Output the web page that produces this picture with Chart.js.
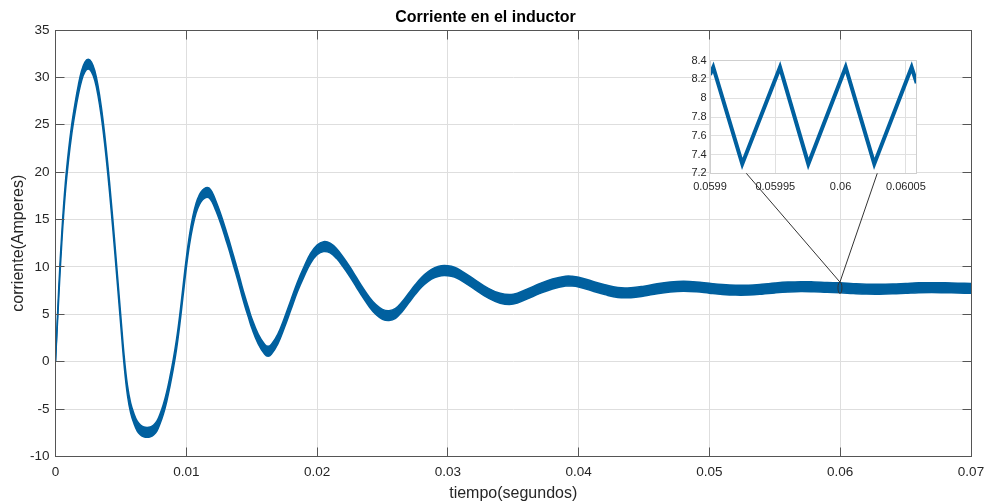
<!DOCTYPE html>
<html><head><meta charset="utf-8">
<script src="https://cdn.jsdelivr.net/npm/chart.js@4.4.1/dist/chart.umd.min.js"></script>
<style>
html,body{margin:0;padding:0;background:#fff;}
#wrap{position:relative;width:986px;height:503px;}
canvas{position:absolute;left:0;top:0;}
#inset{pointer-events:none;}
</style></head><body>
<div id="wrap"><canvas id="main" width="986" height="503"></canvas><canvas id="inset" width="986" height="503"></canvas></div>
<script>
// ---- data (band centre of the inductor current) ----
const timeS = [0,0.00025,0.0005,0.00075,0.001,0.00125,0.0015,0.00175,0.002,0.00225,0.0025,0.00275,0.003,0.00325,0.0035,0.00375,0.004,0.00425,0.0045,0.00475,0.005,0.00525,0.0055,0.00575,0.006,0.00625,0.0065,0.00675,0.007,0.00725,0.0075,0.00775,0.008,0.00825,0.0085,0.00875,0.009,0.00925,0.0095,0.00975,0.01,0.01025,0.0105,0.01075,0.011,0.01125,0.0115,0.01175,0.012,0.01225,0.0125,0.01275,0.013,0.01325,0.0135,0.01375,0.014,0.01425,0.0145,0.01475,0.015,0.0155,0.016,0.01625,0.0165,0.017,0.0175,0.018,0.0185,0.019,0.0195,0.02,0.0205,0.021,0.0215,0.022,0.0225,0.023,0.0235,0.024,0.0245,0.025,0.0255,0.026,0.0265,0.027,0.0275,0.028,0.0285,0.029,0.0295,0.03,0.0305,0.031,0.032,0.033,0.034,0.035,0.036,0.037,0.038,0.039,0.0395,0.04,0.041,0.042,0.043,0.044,0.045,0.046,0.047,0.048,0.049,0.05,0.051,0.052,0.053,0.054,0.055,0.056,0.057,0.058,0.059,0.06,0.061,0.062,0.063,0.064,0.065,0.066,0.067,0.068,0.069,0.07];
const currentA = [0,7.3,13.5,18.3,21.8,24.6,26.8,28.7,30.2,31.1,31.4,31.1,30.2,28.6,26.4,23.6,20.3,16.6,12.6,8.4,4.2,0.1,-3.0,-4.9,-6.0,-6.8,-7.2,-7.4,-7.45,-7.4,-7.2,-6.8,-6.0,-5.0,-3.7,-2.1,-0.3,1.8,4.4,7.4,10.4,12.9,14.8,16.2,17.1,17.6,17.85,17.8,17.3,16.5,15.6,14.6,13.5,12.4,11.2,10.0,8.8,7.5,6.3,5.2,4.1,2.4,1.3,1.1,1.3,2.4,4.1,6.0,7.9,9.5,10.9,11.8,12.15,12.0,11.4,10.5,9.5,8.4,7.3,6.3,5.5,5.0,4.87,5.1,5.8,6.7,7.6,8.4,9.0,9.4,9.6,9.6,9.45,9.1,8.2,7.3,6.7,6.6,7.1,7.7,8.2,8.5,8.5,8.4,8.0,7.6,7.3,7.28,7.45,7.7,7.88,7.96,7.9,7.75,7.62,7.55,7.56,7.65,7.78,7.88,7.93,7.9,7.84,7.8,7.72,7.66,7.65,7.68,7.74,7.8,7.82,7.8,7.77,7.74];
const rippleA = 1.04; // peak-to-peak switching ripple (from the inset)

const xTicks = [0,0.01,0.02,0.03,0.04,0.05,0.06,0.07];
const xTickLabels = ['0','0.01','0.02','0.03','0.04','0.05','0.06','0.07'];
const yTicks = [-10,-5,0,5,10,15,20,25,30,35];
const yTickLabels = ['-10','-5','0','5','10','15','20','25','30','35'];

const insetTime = [0.0599,0.0599025,0.0599247,0.0599536,0.0599753,0.0600039,0.0600258,0.0600544,0.0600583];
const insetCurrent = [8.25,8.33,7.30,8.33,7.30,8.33,7.30,8.33,8.16];
const insetXTicks = [0.0599,0.05995,0.06,0.06005];
const insetXLabels = ['0.0599','0.05995','0.06','0.06005'];
const insetYTicks = [7.2,7.4,7.6,7.8,8,8.2,8.4];
const insetYLabels = ['7.2','7.4','7.6','7.8','8','8.2','8.4'];
const insetXRange = [0.0599,0.0600583];
const insetYRange = [7.2,8.4];
const insetLinkX = [0.0599278,0.0600281];

// ---- styling ----
const FONT = "'Liberation Sans', Arial, Helvetica, sans-serif";
const BLUE = '#00609f';
const TXT = '#262626';

const upper = timeS.map((t,i)=>({x:t, y: i===0 ? currentA[i] : currentA[i]+rippleA/2}));
const lower = timeS.map((t,i)=>({x:t, y: i===0 ? currentA[i] : currentA[i]-rippleA/2}));

const al = v => Math.round(v - 0.5) + 0.5;

const frame = {
  id:'frame',
  afterDraw(chart){
    const {ctx, chartArea:a, scales:{x,y}} = chart;
    ctx.save();
    ctx.strokeStyle = '#555'; ctx.lineWidth = 1;
    const L=al(a.left), R=al(a.right), T=al(a.top), B=al(a.bottom);
    ctx.strokeRect(L,T,R-L,B-T);
    ctx.beginPath();
    xTicks.forEach(v=>{const p=al(x.getPixelForValue(v)); ctx.moveTo(p,B); ctx.lineTo(p,B-9); ctx.moveTo(p,T); ctx.lineTo(p,T+9);});
    yTicks.forEach(v=>{const p=al(y.getPixelForValue(v)); ctx.moveTo(L,p); ctx.lineTo(L+9,p); ctx.moveTo(R,p); ctx.lineTo(R-9,p);});
    ctx.stroke();
    ctx.restore();
  }
};

const mainChart = new Chart(document.getElementById('main'), {
  type:'line',
  data:{datasets:[
    {data:upper, borderColor:BLUE, backgroundColor:BLUE, borderWidth:1.5, pointRadius:0, fill:'+1', tension:0.4},
    {data:lower, borderColor:BLUE, backgroundColor:BLUE, borderWidth:1.5, pointRadius:0, fill:false, tension:0.4}
  ]},
  options:{
    responsive:false, animation:false, events:[],
    layout:{padding:{left:0,right:15,top:0,bottom:0}},
    plugins:{
      legend:{display:false}, tooltip:{enabled:false},
      title:{display:true, text:'Corriente en el inductor', color:'#000', font:{family:FONT,size:16,weight:'bold'}, padding:{top:8.4,bottom:2.4}}
    },
    scales:{
      x:{type:'linear', min:0, max:0.07,
        afterBuildTicks:s=>{s.ticks = xTicks.map(v=>({value:v}));},
        afterFit:s=>{s.height = 46.5; s.paddingRight = 0; s.paddingLeft = 0;},
        ticks:{callback:(v,i)=>xTickLabels[i], color:TXT, font:{family:FONT,size:13.5}, padding:8, maxRotation:0, autoSkip:false},
        grid:{color:'#dedede', drawTicks:false}, border:{display:false},
        title:{display:true, text:'tiempo(segundos)', color:TXT, font:{family:FONT,size:16}, padding:{top:0,bottom:0}}
      },
      y:{type:'linear', min:-10, max:35,
        afterBuildTicks:s=>{s.ticks = yTicks.map(v=>({value:v}));},
        afterFit:s=>{s.width = 55.5;},
        ticks:{callback:(v,i)=>yTickLabels[i], color:TXT, font:{family:FONT,size:13.5}, padding:6, autoSkip:false},
        grid:{color:'#dedede', drawTicks:false}, border:{display:false},
        title:{display:true, text:'corriente(Amperes)', color:TXT, font:{family:FONT,size:16}, padding:{top:9.4,bottom:0}}
      }
    }
  },
  plugins:[frame]
});

const insetDeco = {
  id:'insetDeco',
  beforeDraw(chart){
    const {ctx, chartArea:a} = chart;
    ctx.save(); ctx.fillStyle='#fff'; ctx.fillRect(a.left,a.top,a.width,a.height); ctx.restore();
  },
  afterDraw(chart){
    const {ctx, chartArea:a, scales:{x}} = chart;
    ctx.save();
    ctx.strokeStyle = '#cfcfcf'; ctx.lineWidth = 1;
    const L=al(a.left), R=al(a.right), T=al(a.top), B=al(a.bottom);
    ctx.strokeRect(L,T,R-L,B-T);
    // zoom marker on the main chart
    const mx = mainChart.scales.x, my = mainChart.scales.y;
    const x0 = mx.getPixelForValue(insetXRange[0]), x1 = mx.getPixelForValue(insetXRange[1]);
    const y0 = my.getPixelForValue(insetYRange[0]), y1 = my.getPixelForValue(insetYRange[1]);
    const cx = (x0+x1)/2, cy = (y0+y1)/2, rx = Math.max((x1-x0)/2, 2), ry = Math.abs(y0-y1)/2;
    ctx.strokeStyle = '#333'; ctx.lineWidth = 1;
    ctx.beginPath(); ctx.ellipse(cx,cy,rx,ry,0,0,Math.PI*2); ctx.stroke();
    ctx.beginPath();
    insetLinkX.forEach(v=>{ctx.moveTo(x.getPixelForValue(v), a.bottom); ctx.lineTo(cx, cy-ry);});
    ctx.stroke();
    ctx.restore();
  }
};

new Chart(document.getElementById('inset'), {
  type:'line',
  data:{datasets:[{data:insetTime.map((t,i)=>({x:t,y:insetCurrent[i]})), borderColor:BLUE, borderWidth:4, pointRadius:0, fill:false, tension:0, borderJoinStyle:'miter'}]},
  options:{
    responsive:false, animation:false, events:[],
    layout:{padding:{left:680,right:69.3,top:60.7,bottom:309.7}},
    plugins:{legend:{display:false}, tooltip:{enabled:false}, title:{display:false}},
    scales:{
      x:{type:'linear', min:insetXRange[0], max:insetXRange[1],
        afterBuildTicks:s=>{s.ticks = insetXTicks.map(v=>({value:v}));},
        afterFit:s=>{s.height = 20;},
        ticks:{callback:(v,i)=>insetXLabels[i], color:TXT, font:{family:FONT,size:11}, padding:6.8, maxRotation:0, autoSkip:false},
        grid:{color:'#e0e0e0', drawTicks:false}, border:{display:false}
      },
      y:{type:'linear', min:insetYRange[0], max:insetYRange[1],
        afterBuildTicks:s=>{s.ticks = insetYTicks.map(v=>({value:v}));},
        afterFit:s=>{s.width = 30;},
        ticks:{callback:(v,i)=>insetYLabels[i], color:TXT, font:{family:FONT,size:11}, padding:3.3, autoSkip:false},
        grid:{color:'#e0e0e0', drawTicks:false}, border:{display:false}
      }
    }
  },
  plugins:[insetDeco]
});
</script>
</body></html>
